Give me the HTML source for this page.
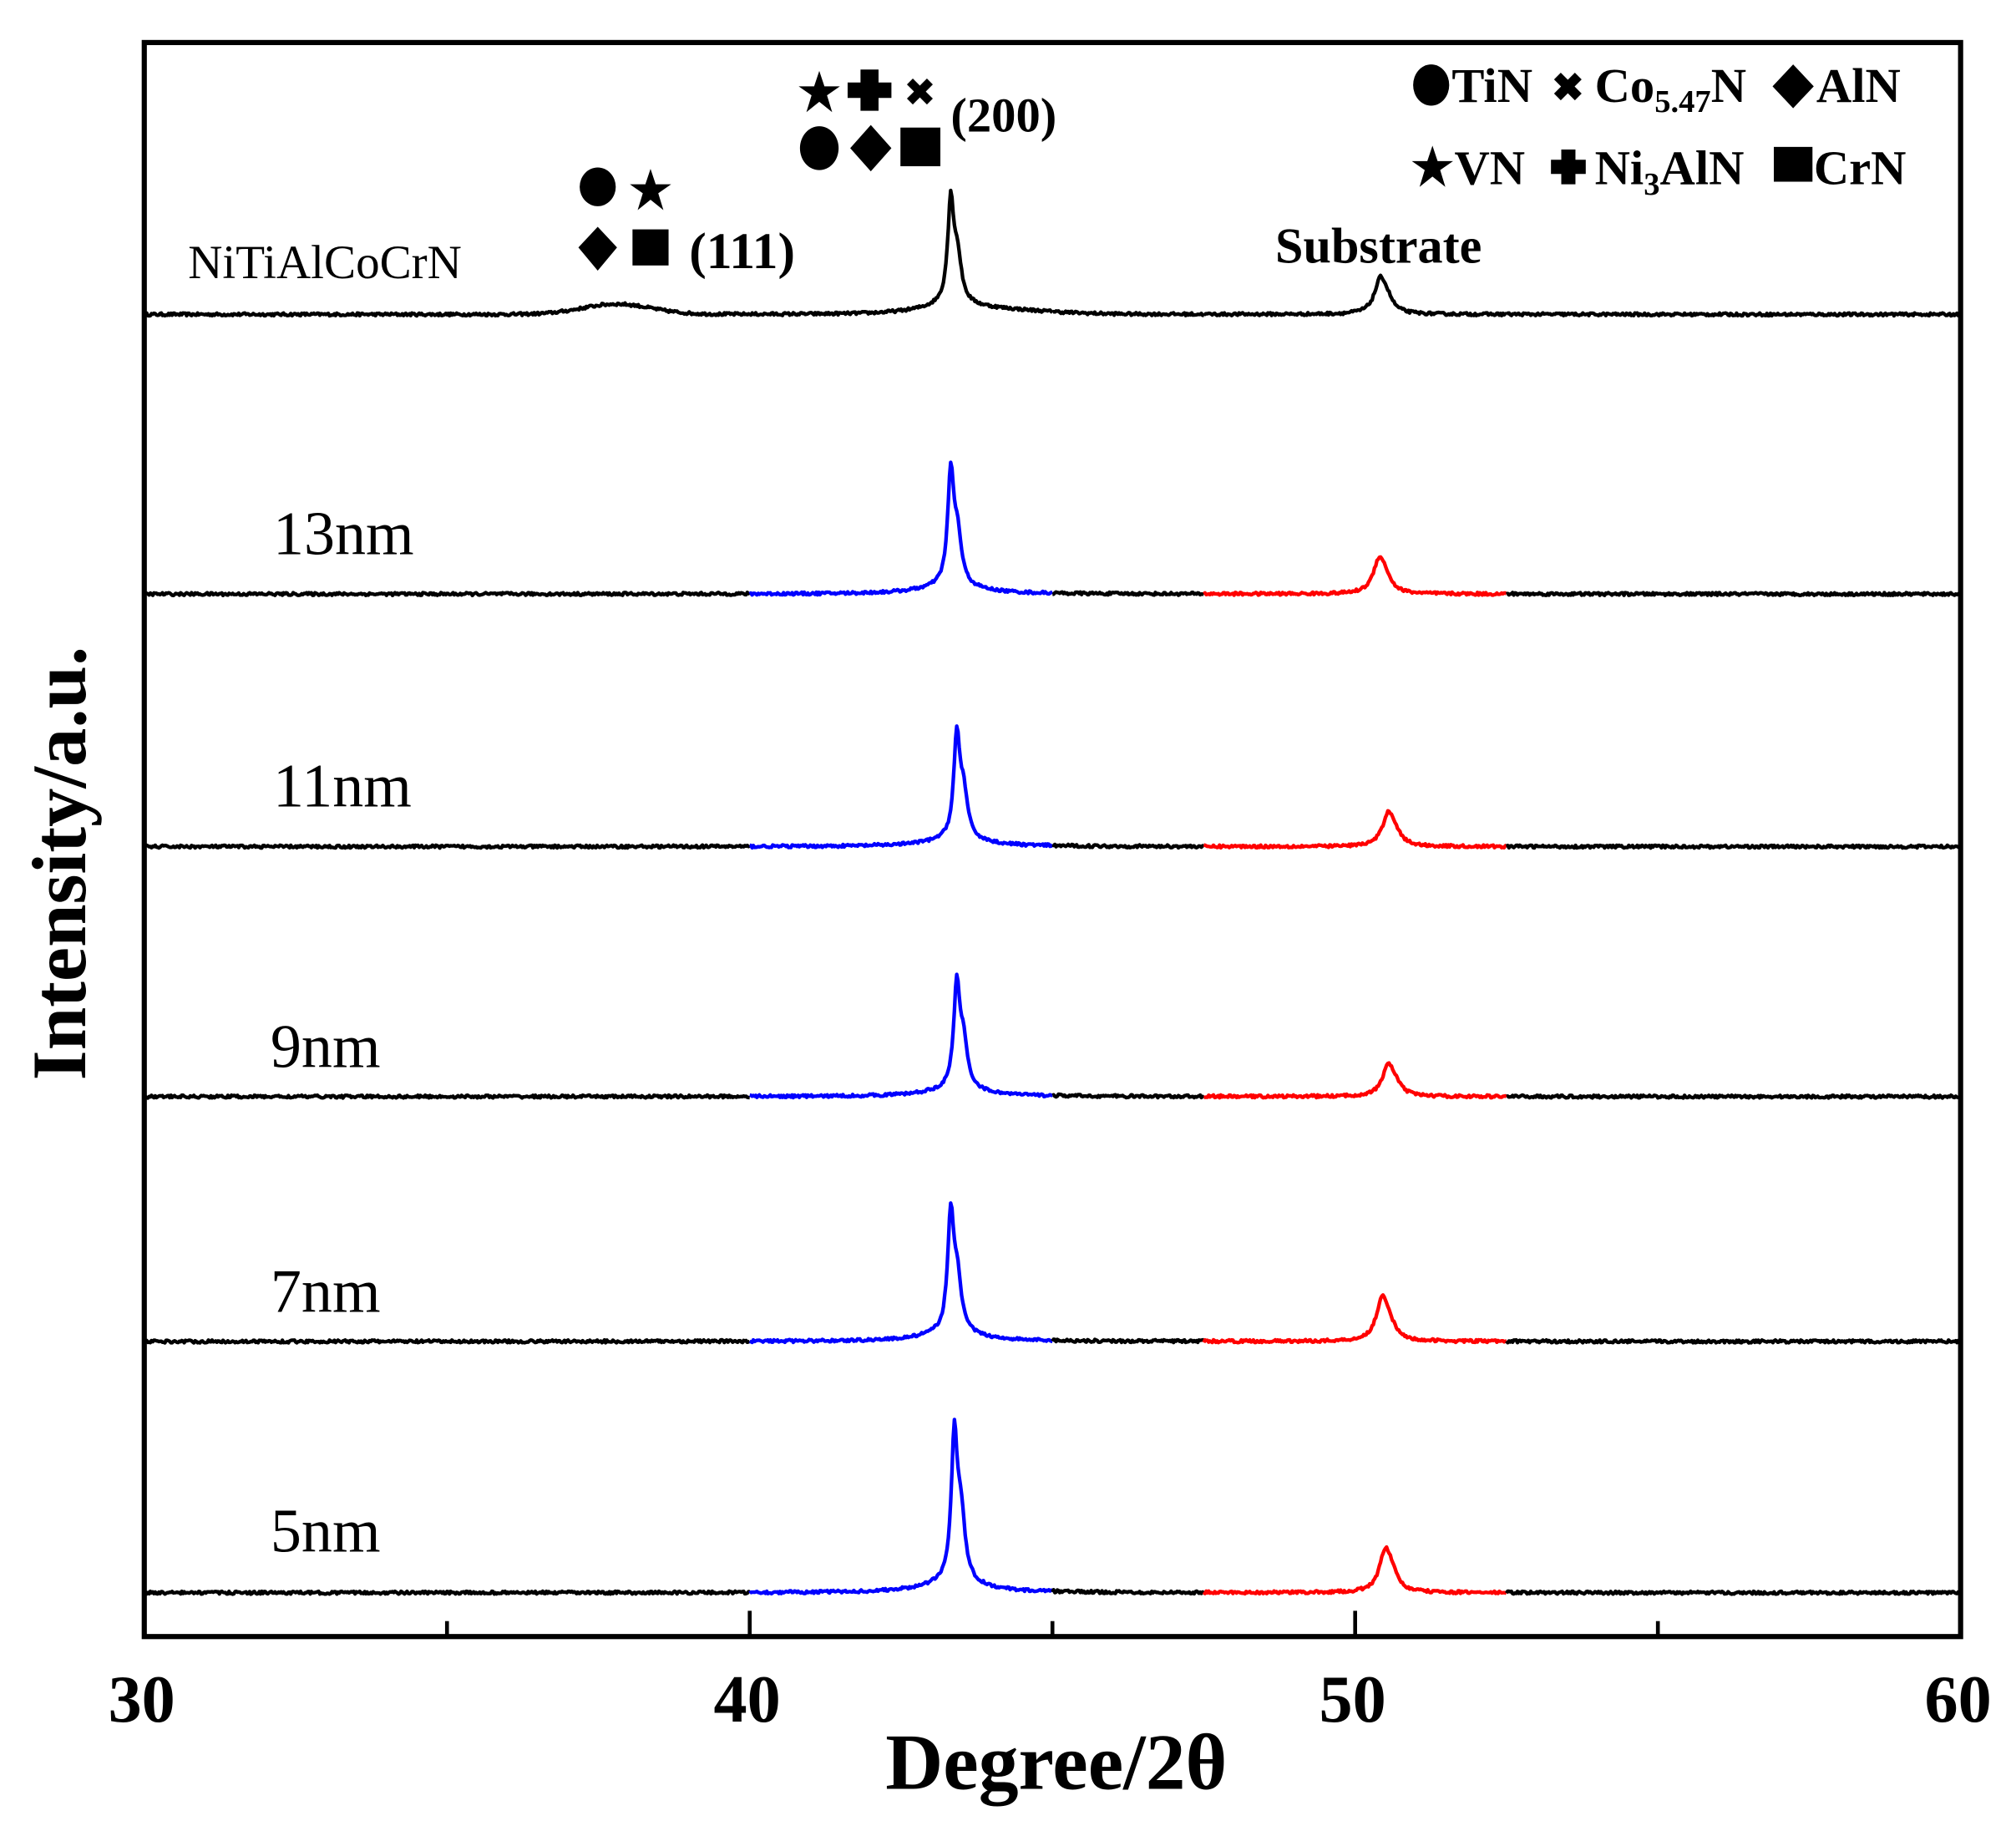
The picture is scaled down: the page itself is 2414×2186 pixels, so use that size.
<!DOCTYPE html>
<html><head><meta charset="utf-8">
<style>
html,body{margin:0;padding:0;background:#fff;}
svg{display:block;}
text{font-family:"Liberation Serif",serif;}
</style></head>
<body>
<svg id="s" width="2414" height="2186" viewBox="0 0 1565 1417" preserveAspectRatio="none" xmlns="http://www.w3.org/2000/svg">
<rect x="0" y="0" width="1565" height="1417" fill="#fff"/>
<g id="traces" fill="none" stroke-width="2.8" stroke-linejoin="round"></g>
<rect x="112" y="33" width="1410" height="1237" fill="none" stroke="#000" stroke-width="4"/>
<g stroke="#000" stroke-width="3">
<line x1="347" y1="1270" x2="347" y2="1258"/>
<line x1="582" y1="1270" x2="582" y2="1250"/>
<line x1="817" y1="1270" x2="817" y2="1258"/>
<line x1="1052" y1="1270" x2="1052" y2="1250"/>
<line x1="1287" y1="1270" x2="1287" y2="1258"/>
</g>
<g font-weight="bold" font-size="52" text-anchor="middle">
<text x="110" y="1336">30</text>
<text x="580" y="1336">40</text>
<text x="1050" y="1336">50</text>
<text x="1520" y="1336">60</text>
</g>
<text x="820" y="1388" font-weight="bold" font-size="62" text-anchor="middle">Degree/2θ</text>
<text transform="translate(66,670) rotate(-90)" font-weight="bold" font-size="60" text-anchor="middle">Intensity/a.u.</text>
<text x="146" y="216" font-size="37">NiTiAlCoCrN</text>
<g font-size="48">
<text x="212" y="430">13nm</text>
<text x="212" y="626">11nm</text>
<text x="210" y="828">9nm</text>
<text x="210" y="1018">7nm</text>
<text x="210" y="1204">5nm</text>
</g>
<text x="990" y="204" font-weight="bold" font-size="39">Substrate</text>
<text x="535" y="208" font-weight="bold" font-size="40">(111)</text>
<text x="738" y="102" font-weight="bold" font-size="38">(200)</text>
<g fill="#000">
<ellipse cx="464" cy="145" rx="14" ry="15"/>
<polygon id="star" points="0,-17 4,-5 16,-5 6,2 10,15 0,7 -10,15 -6,2 -16,-5 -4,-5" transform="translate(505,148)"/>
<polygon points="464,176 479,192 464,210 449,192"/>
<rect x="491" y="178" width="28" height="28"/>
<use href="#star" transform="translate(131,-76)"/>
<path d="M668,58h14v10h10v12h-10v10h-14v-10h-10v-12h10z" transform="translate(0,-4)"/>
<text x="714" y="82" font-size="30" text-anchor="middle" font-family="DejaVu Sans">✖</text>
<ellipse cx="636" cy="115" rx="15" ry="17"/>
<polygon points="676,97 692,115 676,133 660,115"/>
<rect x="699" y="99" width="31" height="30"/>
</g>
<g font-weight="bold" font-size="38">
<ellipse cx="1111" cy="66" rx="14" ry="16"/>
<text x="1127" y="79">TiN</text>
<text x="1217" y="78" font-size="30" text-anchor="middle" font-family="DejaVu Sans">✖</text>
<text x="1238" y="79">Co<tspan font-size="25" dy="8">5.47</tspan><tspan dy="-8">N</tspan></text>
<polygon points="1392,50 1408,67 1392,84 1376,67"/>
<text x="1410" y="79">AlN</text>
<polygon points="0,-17 4,-5 16,-5 6,2 10,15 0,7 -10,15 -6,2 -16,-5 -4,-5" transform="translate(1112,130)"/>
<text x="1129" y="143">VN</text>
<path d="M1212,116h11v8h8v11h-8v8h-11v-8h-8v-11h8z"/>
<text x="1238" y="143">Ni<tspan font-size="25" dy="8">3</tspan><tspan dy="-8">AlN</tspan></text>
<rect x="1377" y="114" width="30" height="27"/>
<text x="1408" y="143">CrN</text>
</g>
</svg>
<script>
(function(){
var seed=12345;function rnd(){seed=(seed*16807)%2147483647;return seed/2147483647;}
function X(d){return 112+(d-30)*47;}
function pk(d,c,h,w){var t=(d-c)/w;return h/(1+t*t);}
var rows=[
 {b:244,p:106,s:31,top:true,pc:43.32,sc:50.42},
 {b:461,p:116,s:31,pc:43.32,sc:50.4},
 {b:657,p:106,s:29,pc:43.42,sc:50.55},
 {b:851,p:107,s:27,pc:43.42,sc:50.55},
 {b:1041,p:123,s:38,pc:43.32,sc:50.45},
 {b:1236,p:152,s:37,pc:43.38,sc:50.5}
];
var g=document.getElementById('traces');
rows.forEach(function(r){
 function y(d){
  var v=0;
  v+=pk(d,r.pc,r.p*0.72,0.06)+pk(d,r.pc+0.11,r.p*0.32,0.08)+pk(d,r.pc,r.p*0.05,0.6);
  v+=pk(d,r.sc,r.s*0.85,0.12)+pk(d,r.sc+0.12,r.s*0.2,0.11);
  if(r.top){v+=8*Math.exp(-Math.pow((d-37.8)/0.8,2))+3*Math.exp(-Math.pow((d-44)/1.2,2));}
  v+=(rnd()-0.5)*2.2;
  return r.b-v;
 }
 var segs=[[30,40,'#000'],[40,45,'#0000ff'],[45,47.5,'#000'],[47.5,52.5,'#ff0000'],[52.5,60,'#000']];
 segs.forEach(function(s){
  var pts=[];
  for(var d=s[0];d<=s[1]+1e-9;d+=0.02){pts.push(X(d).toFixed(1)+','+y(d).toFixed(1));}
  var p=document.createElementNS('http://www.w3.org/2000/svg','polyline');
  p.setAttribute('points',pts.join(' '));
  p.setAttribute('stroke',r.top?'#000':s[2]);
  g.appendChild(p);
 });
});
})();
</script>
</body></html>
